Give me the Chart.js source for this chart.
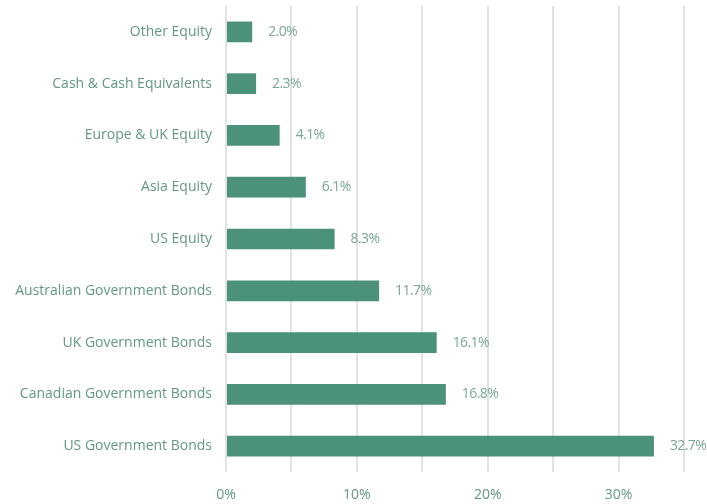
<!DOCTYPE html>
<html>
<head>
<meta charset="utf-8">
<script src="https://cdn.jsdelivr.net/npm/chart.js@4/dist/chart.umd.min.js"></script>
<style>
  html, body { margin: 0; padding: 0; background: #fff; }
  #wrap { width: 707px; height: 504px; }
</style>
</head>
<body>
<div id="wrap"><canvas id="allocChart"></canvas></div>
<script>
// Asset allocation data, top to bottom
const categories = [
  "Other Equity",
  "Cash & Cash Equivalents",
  "Europe & UK Equity",
  "Asia Equity",
  "US Equity",
  "Australian Government Bonds",
  "UK Government Bonds",
  "Canadian Government Bonds",
  "US Government Bonds"
];
const allocations = [2.0, 2.3, 4.1, 6.1, 8.3, 11.7, 16.1, 16.8, 32.7];
const xTickLabels = ["0%", "10%", "20%", "30%"];

const textColor = "#62997f";
const valueColor = "#7aa893";
const barColor = "#4c927a";
const fontFamily = "'Open Sans', sans-serif";

// Draw the value labels at the end of each bar
const valueLabels = {
  id: "valueLabels",
  afterDatasetsDraw(chart) {
    const ctx = chart.ctx;
    const meta = chart.getDatasetMeta(0);
    ctx.save();
    ctx.font = "14px " + fontFamily;
    ctx.letterSpacing = "-0.6px"; // the original digits sit tighter
    ctx.fillStyle = valueColor;
    ctx.textBaseline = "middle";
    ctx.textAlign = "left";
    meta.data.forEach((bar, i) => {
      ctx.fillText(allocations[i].toFixed(1) + "%", bar.x + 16, bar.y);
    });
    ctx.restore();
  }
};

new Chart(document.getElementById("allocChart").getContext("2d"), {
  type: "bar",
  data: {
    labels: categories,
    datasets: [{
      data: allocations,
      backgroundColor: barColor,
      barPercentage: 0.4,
      categoryPercentage: 1
    }]
  },
  options: {
    indexAxis: "y",
    responsive: true,
    maintainAspectRatio: false,
    animation: false,
    layout: { padding: { top: 6, right: 23, bottom: 0, left: 0 } },
    plugins: {
      legend: { display: false },
      tooltip: { enabled: false }
    },
    scales: {
      x: {
        min: 0,
        max: 35,
        afterFit: (scale) => { scale.height = 32; },
        ticks: {
          stepSize: 5,
          color: textColor,
          font: { family: fontFamily, size: 14 },
          padding: 15,
          callback: (value) => {
            const idx = xTickLabels.indexOf(value + "%");
            return idx >= 0 ? xTickLabels[idx] : "";
          }
        },
        grid: { color: "#e2e2e2", lineWidth: 2, drawTicks: false },
        border: { display: false }
      },
      y: {
        afterFit: (scale) => {
          scale.width = 226;
          scale.paddingTop = 0;
          scale.paddingBottom = 0;
        },
        ticks: {
          color: textColor,
          font: { family: fontFamily, size: 14 },
          padding: 14
        },
        grid: { display: false, drawTicks: false },
        border: { display: false }
      }
    }
  },
  plugins: [valueLabels]
});
</script>
</body>
</html>
